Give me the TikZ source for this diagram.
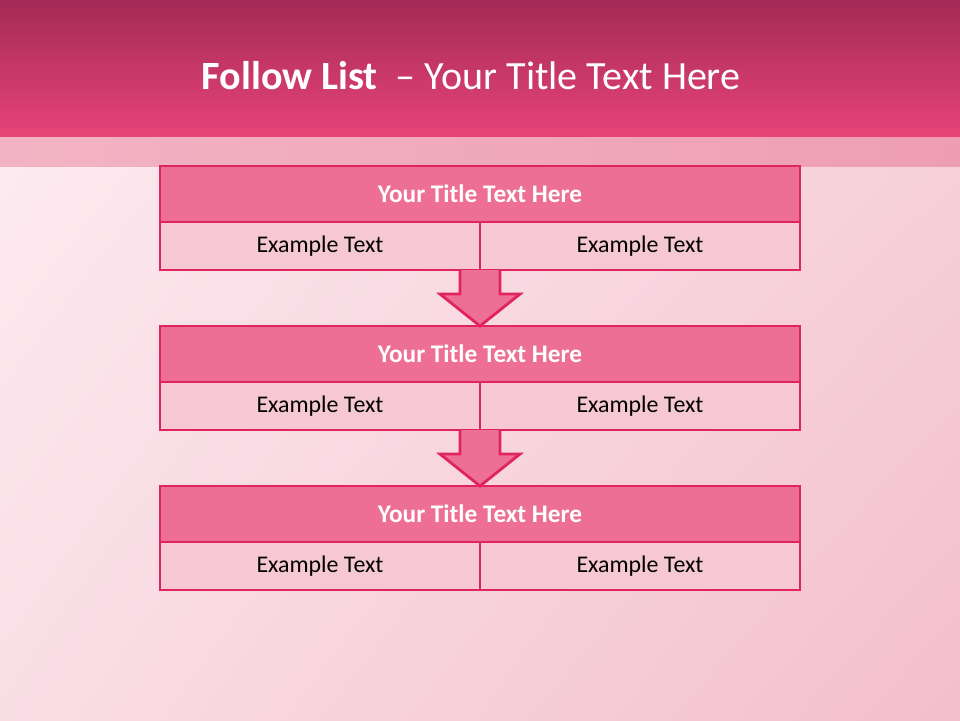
\documentclass[tikz,border=0pt]{standalone}
\usepackage{fontspec}
\setmainfont{Carlito}
\usetikzlibrary{positioning,calc,shadings}
\definecolor{headtop}{RGB}{163,43,85}
\definecolor{headbot}{RGB}{232,67,121}
\definecolor{bandleft}{RGB}{242,180,196}
\definecolor{bandright}{RGB}{238,158,178}
\definecolor{bgul}{RGB}{253,238,243}
\definecolor{bgur}{RGB}{247,212,222}
\definecolor{bgll}{RGB}{250,222,230}
\definecolor{bglr}{RGB}{243,190,205}
\definecolor{rowpink}{RGB}{238,111,150}
\definecolor{cellpink}{RGB}{245,200,211}
\definecolor{edgepink}{RGB}{224,36,94}

\begin{document}
\begin{tikzpicture}[
    every node/.style={font=\fontsize{17}{20}\selectfont},
    titlerow/.style={draw=edgepink, line width=2pt, fill=rowpink, outer sep=0pt,
      minimum width=16cm, minimum height=1.4cm, text=white,
      font=\fontsize{18}{21}\selectfont\bfseries},
    cell/.style={draw=edgepink, line width=2pt, fill=cellpink, outer sep=0pt,
      minimum width=8cm, minimum height=1.2cm},
    flow/.style={draw=edgepink, line width=2pt, fill=rowpink, line join=miter}
  ]
    \shade[upper left=bgul, upper right=bgur, lower left=bgll, lower right=bglr] (0,0) rectangle (24,-18);
    \shade[top color=headtop, bottom color=headbot] (0,0) rectangle (24,-3.425);
    \shade[left color=bandleft, right color=bandright] (0,-3.425) rectangle (24,-4.15);
    \node[text=white, font=\fontsize{28.5}{32}\selectfont] (heading) at (11.78,-1.9) {\textbf{Follow List}\ \ – Your Title Text Here};

    \node[titlerow] (title1) at (12,-4.85) {Your Title Text Here};
    \node[cell, below right=0cm and 0cm of title1.south west] (left1) {Example Text};
    \node[cell, right=0cm of left1] (right1) {Example Text};

    \node[titlerow, below=1.4cm of left1.south east] (title2) {Your Title Text Here};
    \node[cell, below right=0cm and 0cm of title2.south west] (left2) {Example Text};
    \node[cell, right=0cm of left2] (right2) {Example Text};

    \node[titlerow, below=1.4cm of left2.south east] (title3) {Your Title Text Here};
    \node[cell, below right=0cm and 0cm of title3.south west] (left3) {Example Text};
    \node[cell, right=0cm of left3] (right3) {Example Text};

    \draw[flow] ($(left1.south east)+(-0.5,0)$) -- ++(0,-0.6) -- ++(-0.5,0)
      -- (title2.north) -- ++(1,0.8) -- ++(-0.5,0) -- ($(left1.south east)+(0.5,0)$);
    \draw[flow] ($(left2.south east)+(-0.5,0)$) -- ++(0,-0.6) -- ++(-0.5,0)
      -- (title3.north) -- ++(1,0.8) -- ++(-0.5,0) -- ($(left2.south east)+(0.5,0)$);
  \end{tikzpicture}
\end{document}
